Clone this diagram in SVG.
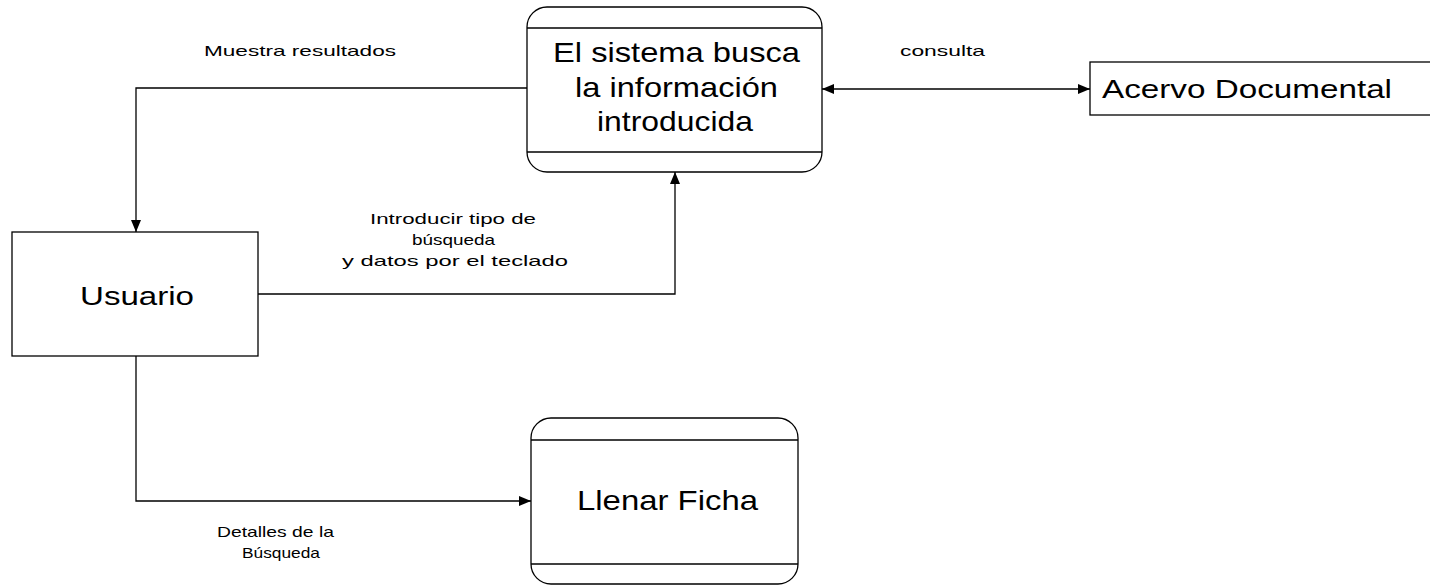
<svg xmlns="http://www.w3.org/2000/svg" width="1430" height="586" viewBox="0 0 1430 586">
<defs>
<style>
.box{fill:#fff;stroke:#000;stroke-width:1.3}
.div{stroke:#000;stroke-width:1.3}
.big{font-family:"Liberation Sans",Arial,sans-serif;font-size:28px;fill:#000}
.lbl{font-family:"Liberation Sans",Arial,sans-serif;font-size:15px;fill:#000}
.con{fill:none;stroke:#000;stroke-width:1.3}
</style>
<marker id="ah" viewBox="0 0 12 10" refX="12" refY="5" markerWidth="12" markerHeight="10" markerUnits="userSpaceOnUse" orient="auto-start-reverse">
<path d="M0,0 L12,5 L0,10 Z" fill="#000"/>
</marker>
</defs>
<rect width="1430" height="586" fill="#fff"/>
<g id="connectors">
<polyline class="con" points="527,88 136,88 136,232" marker-end="url(#ah)"/>
<polyline class="con" points="258,294 675,294 675,172" marker-end="url(#ah)"/>
<line class="con" x1="822" y1="89" x2="1090" y2="89" marker-start="url(#ah)" marker-end="url(#ah)"/>
<polyline class="con" points="136,356 136,501 531,501" marker-end="url(#ah)"/>
<text class="lbl" x="204" y="56" textLength="192" lengthAdjust="spacingAndGlyphs">Muestra resultados</text>
<text class="lbl" x="900" y="56" textLength="85" lengthAdjust="spacingAndGlyphs">consulta</text>
<text class="lbl" x="370" y="224" textLength="166" lengthAdjust="spacingAndGlyphs">Introducir tipo de</text>
<text class="lbl" x="412" y="245" textLength="83" lengthAdjust="spacingAndGlyphs">búsqueda</text>
<text class="lbl" x="342" y="266" textLength="226" lengthAdjust="spacingAndGlyphs">y datos por el teclado</text>
<text class="lbl" x="217" y="537" textLength="117" lengthAdjust="spacingAndGlyphs">Detalles de la</text>
<text class="lbl" x="242" y="558" textLength="78" lengthAdjust="spacingAndGlyphs">Búsqueda</text>
</g>
<g id="proceso-busca">
<rect class="box" x="527" y="7" width="295" height="165" rx="20" ry="20"/>
<line class="div" x1="527" y1="28" x2="822" y2="28"/>
<line class="div" x1="527" y1="152" x2="822" y2="152"/>
<text class="big" x="553" y="62" textLength="247" lengthAdjust="spacingAndGlyphs">El sistema busca</text>
<text class="big" x="575" y="97" textLength="203" lengthAdjust="spacingAndGlyphs">la información</text>
<text class="big" x="597" y="131" textLength="156" lengthAdjust="spacingAndGlyphs">introducida</text>
</g>
<g id="acervo">
<rect class="box" x="1090" y="62" width="360" height="53"/>
<text class="big" x="1102" y="98" style="font-size:25px" textLength="290" lengthAdjust="spacingAndGlyphs">Acervo Documental</text>
</g>
<g id="usuario">
<rect class="box" x="12" y="232" width="246" height="124"/>
<text class="big" x="80" y="305" style="font-size:26px" textLength="114" lengthAdjust="spacingAndGlyphs">Usuario</text>
</g>
<g id="llenar-ficha">
<rect class="box" x="531" y="418" width="267" height="166" rx="20" ry="20"/>
<line class="div" x1="531" y1="440" x2="798" y2="440"/>
<line class="div" x1="531" y1="564" x2="798" y2="564"/>
<text class="big" x="577" y="510" textLength="181" lengthAdjust="spacingAndGlyphs">Llenar Ficha</text>
</g>
</svg>
